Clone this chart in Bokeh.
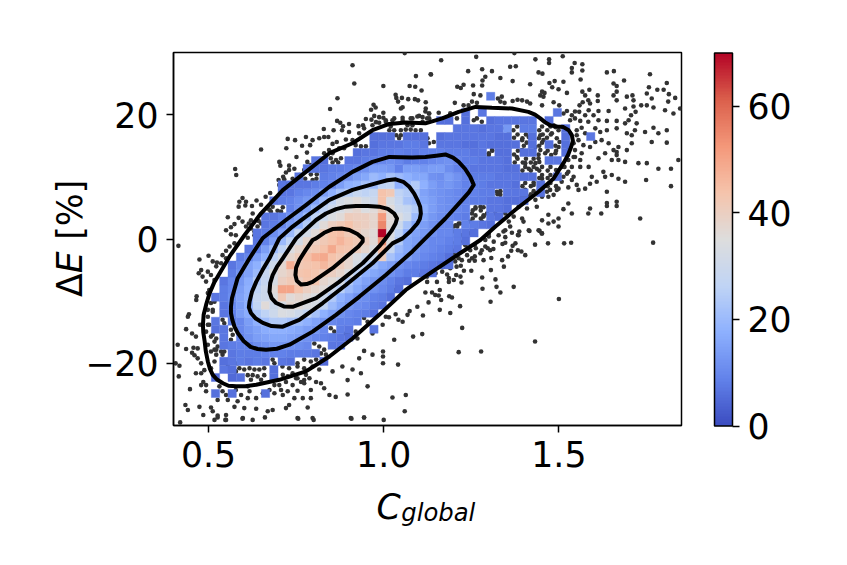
from bokeh.plotting import figure
from bokeh.models import (ColumnDataSource, LinearColorMapper, ColorBar, FixedTicker, Label, Range1d)
from bokeh.embed import file_html
from bokeh.resources import INLINE

x_ticks = [0.5, 1.0, 1.5]
y_ticks = [-20, 0, 20]
cbar_ticks = [0, 20, 40, 60]
x_lim = (0.4, 1.85)
y_lim = (-30, 30)
count_lim = (0, 70)

# 2-D histogram, read cell by cell. Row index rises with Delta E, zero = empty cell
bin_x0, bin_dx = 0.508, 0.0238
bin_y0, bin_dy = -25.5, 1.292
hist_counts = [
 [6,0,6,0,0,0,6],
 [],
 [5,0,5,6,0,0,0,6],
 [0,7,6,0,0,0,0,6],
 [0,6,7,8,7,8,7,0,7,6,0,0,0,5],
 [0,0,7,8,8,8,9,9,9,8,8,8,7],
 [0,7,8,9,9,11,12,13,13,12,11,10,0,0,7,7],
 [0,7,0,9,12,14,15,16,16,15,14,12,10,9,8,7,6],
 [6,7,0,10,13,15,17,18,18,17,16,14,13,10,0,8,7,0,0,7],
 [7,0,8,10,14,18,21,24,24,22,20,18,15,13,10,9,9,8],
 [0,7,9,14,17,23,26,30,34,33,30,27,22,18,15,12,10,9,8,6],
 [0,7,10,14,18,27,36,30,33,38,36,34,33,26,20,16,13,11,10,8,7],
 [7,8,11,15,18,28,30,34,42,36,38,36,34,30,24,18,15,12,11,9,8,6],
 [0,8,10,14,18,26,30,36,50,50,44,40,38,36,30,25,20,16,13,12,10,8,6],
 [0,7,10,13,17,24,28,33,40,42,40,43,43,38,36,32,24,18,15,13,11,9,7,6],
 [0,0,8,12,15,20,28,34,38,40,43,44,43,41,40,38,34,26,18,16,14,12,10,8,8,7,6],
 [0,0,7,10,15,18,24,30,37,48,42,43,44,46,43,41,38,33,26,20,16,14,12,10,9,8,7,6,6],
 [0,0,0,8,10,14,18,26,32,38,41,44,48,49,44,42,38,34,30,30,40,22,18,15,12,10,9,8,6],
 [0,0,0,0,7,9,14,20,26,34,38,41,42,44,49,44,43,41,38,34,45,28,20,16,13,11,10,9,8,7],
 [0,0,0,0,0,7,9,14,20,26,32,38,40,42,44,47,44,42,40,36,54,34,24,16,14,12,10,10,9,8,6],
 [0,0,0,0,0,7,8,11,15,20,28,32,36,41,44,45,42,40,38,36,70,34,26,18,15,13,12,10,10,8,7,6],
 [0,0,0,0,0,0,7,8,10,14,18,24,30,36,40,42,44,41,40,38,55,36,30,22,16,14,12,10,10,0,9,8,7,6],
 [0,0,0,0,0,0,7,7,9,12,15,20,26,30,34,36,41,40,40,38,52,36,34,30,20,16,13,11,10,9,8,0,0,7,6],
 [0,0,0,0,0,0,0,0,0,9,12,15,20,26,30,33,36,38,34,36,42,36,30,28,24,18,14,12,11,10,9,0,0,7,7,6],
 [0,0,0,0,0,0,0,7,8,9,11,13,15,20,26,32,34,36,32,30,44,33,28,22,20,16,14,12,11,10,9,8,8,7,7,6,6,6],
 [0,0,0,0,0,0,0,0,7,7,9,10,11,14,18,22,25,28,26,28,44,42,26,24,22,15,13,12,11,10,9,9,8,8,0,7,7,7,0,6],
 [0,0,0,0,0,0,0,0,7,7,7,7,8,9,10,14,18,19,22,20,26,27,18,20,24,18,14,12,13,11,9,9,8,7,7,7,6,0,0,6],
 [0,0,0,0,0,0,0,0,0,0,7,0,0,8,9,10,12,14,16,20,18,22,20,18,16,16,12,11,14,12,9,8,8,8,7,7,7,6,6,0,0,6],
 [0,0,0,0,0,0,0,0,0,0,0,7,7,7,8,8,9,10,12,14,14,13,9,14,14,13,14,14,11,9,8,7,7,7,7,6,6],
 [0,0,0,0,0,0,0,0,0,0,0,0,7,6,0,0,7,7,8,9,10,11,10,8,9,9,10,11,12,10,8,8,7,7,7,6,0,0,0,0,7,7],
 [0,0,0,0,0,0,0,0,0,0,0,0,0,0,0,0,0,6,7,7,8,8,9,8,8,9,9,9,8,8,8,7,7,0,6,6,0,6,6,0,0,0,6],
 [0,0,0,0,0,0,0,0,0,0,0,0,0,0,0,0,0,0,0,6,7,7,7,8,8,7,0,7,7,7,6,6,7,6,6,6,6,0,6,0,6,0,6],
 [0,0,0,0,0,0,0,0,0,0,0,0,0,0,0,0,0,0,0,6,6,6,0,6,6,6,0,6,7,7,7,7,7,7,6,6,0,0,6,0,0,0,6,0,0,7],
 [0,0,0,0,0,0,0,0,0,0,0,0,0,0,0,0,0,0,0,0,0,0,0,0,0,0,0,0,0,7,7,7,6,7,7,13,0,8,8,0,0,0,6],
 [0,0,0,0,0,0,0,0,0,0,0,0,0,0,0,0,0,0,0,0,0,0,0,0,0,0,0,6,6,0,6,0,0,6,7,7,7,7,7,0,6],
 [0,0,0,0,0,0,0,0,0,0,0,0,0,0,0,0,0,0,0,0,0,0,0,0,0,0,0,0,0,0,6,0,7,0,0,0,0,0,0,0,0,7],
 [],
 [0,0,0,0,0,0,0,0,0,0,0,0,0,0,0,0,0,0,0,0,0,0,0,0,0,0,0,0,0,0,0,0,0,8],
]

scatter_points = [
 (1.06,29.9),(0.911,27.95),(0.916,25.0),(1.092,26.2),(1.134,26.5),(1.074,24.6),(1.090,24.5),(1.108,23.9),(0.999,24.6),(1.034,23.2),
 (1.036,22.7),(1.041,22.1),(1.052,22.7),(1.070,22.5),(1.089,22.5),(1.098,22.3),(1.120,22.0),(0.868,22.65),(0.847,20.9),(0.971,21.6),
 (0.977,21.15),(0.964,20.8),(0.999,20.3),(1.049,21.0),(1.054,21.2),(1.120,21.0),(0.973,19.8),(0.987,19.6),(0.999,19.5),(0.949,19.3),
 (0.965,19.2),(1.025,19.1),(1.054,19.5),(1.082,19.4),(1.101,19.8),(1.13,20.2),(1.111,19.6),(0.867,19.0),(0.876,18.7),(0.901,18.5),
 (0.884,18.15),(0.928,18.15),(0.941,18.3),(0.829,17.7),(0.857,17.5),(0.881,17.5),(0.901,17.2),(0.778,16.4),(0.816,16.2),(0.830,16.4),
 (0.842,16.4),(0.726,16.1),(0.747,15.9),(0.797,15.9),(0.767,15.0),(0.790,15.1),(0.722,14.6),(0.650,14.4),(0.892,16.0),(0.854,15.3),
 (0.866,15.6),(0.844,14.3),(0.920,15.1),(0.935,14.9),(0.949,14.9),(0.751,13.2),(0.781,13.9),(0.702,12.4),(0.705,11.8),(0.730,11.8),
 (0.745,11.3),(0.782,12.4),(0.721,10.7),(0.73,11.1),(0.576,11.25),(0.579,10.3),(0.700,9.5),(0.713,10.0),(0.716,9.6),(0.702,8.7),
 (0.676,7.4),(0.663,6.8),(0.637,6.2),(0.650,5.5),(0.597,6.6),(0.588,6.0),(0.607,6.0),(0.586,5.2),(0.605,5.4),(0.624,5.3),
 (0.555,3.5),(0.586,3.4),(0.597,2.8),(0.626,4.1),(0.621,3.0),(0.574,2.4),(0.564,1.9),(0.55,1.4),(0.564,0.75),(0.578,0.6),
 (0.615,2.5),(0.643,2.9),(0.612,0.2),(0.631,0.6),(0.776,9.7),(0.792,10.4),(0.808,9.7),(0.797,9.5),(0.809,10.4),(0.849,13.0),
 (0.864,12.7),(0.878,13.0),(0.854,12.3),(0.870,12.3),(0.669,4.9),(0.683,5.2),(0.697,4.55),(0.712,5.1),(0.678,4.4),(0.707,4.4),
 (1.036,16.7),(1.044,16.2),(1.049,16.7),(1.115,16.7),(1.125,16.2),(1.016,17.5),(1.03,17.5),(1.049,17.5),(1.063,17.6),(1.077,17.6),
 (1.091,17.5),(1.106,17.5),(0.978,18.8),(1.006,19.1),(1.02,18.1),(1.077,19.4),(1.096,19.7),(1.111,18.85),(1.13,19.4),
 (0.414,-1.1),(0.474,-3.3),(0.5,-2.7),(0.512,-3.6),(0.524,-3.8),(0.479,-5.0),(0.472,-5.5),(0.483,-6.05),(0.54,-2.6),(0.56,-1.2),
 (0.55,-1.9),(0.574,-0.7),(0.466,-9.2),(0.465,-9.8),(0.507,-10.3),(0.512,-11.4),(0.498,-8.7),(0.444,-12.1),(0.441,-12.5),(0.476,-13.8),
 (0.498,-13.8),(0.517,-13.4),(0.436,-14.5),(0.453,-15.2),(0.464,-15.7),(0.412,-17.0),(0.436,-17.7),(0.457,-17.5),(0.469,-17.6),(0.453,-18.3),
 (0.46,-18.7),(0.469,-19.2),(0.517,-17.8),(0.526,-17.3),(0.522,-18.6),(0.545,-18.1),(0.406,-20.0),(0.417,-20.4),(0.479,-20.0),(0.464,-21.6),
 (0.479,-21.6),(0.488,-21.1),(0.415,-22.1),(0.485,-23.0),(0.493,-23.5),(0.447,-24.15),(0.531,-23.7),(0.434,-26.7),(0.441,-27.5),(0.474,-27.0),
 (0.507,-27.1),(0.512,-27.7),(0.526,-28.7),(0.485,-28.3),(0.55,-28.3),(0.55,-29.1),(0.419,-29.5),(0.598,-28.8),(0.574,-27.0),(0.555,-25.9),
 (0.583,-26.1),(0.602,-27.2),(0.612,-25.6),(0.636,-27.3),(0.683,-27.5),(0.669,-27.7),(0.721,-27.2),(0.73,-26.7),(0.745,-25.6),(0.712,-25.1),
 (0.688,-24.8),(0.707,-24.3),(0.726,-24.5),(0.754,-24.4),(0.769,-25.6),(0.792,-25.6),(0.783,-27.1),(0.754,-28.8),(0.797,-28.8),(0.83,-24.0),
 (0.845,-25.1),(0.863,-25.4),(0.897,-22.7),(0.897,-25.0),(0.935,-21.6),(0.954,-23.7),(0.911,-21.0),(0.882,-20.5),(0.854,-21.3),(0.807,-23.0),
 (0.773,-22.7),(0.788,-22.4),(0.764,-23.0),(1.025,-25.5),(1.063,-25.1),(1.06,-27.7),(0.906,-28.8),(0.944,-28.7),(1.0,-29.1),(0.998,-18.1),
 (0.998,-18.9),(0.998,-20.0),(1.041,-20.2),(0.944,-18.0),(0.93,-19.2),(0.968,-18.6),(1.03,-16.2),(1.11,-15.3),(1.084,-15.7),(1.054,-13.3),
 (1.042,-13.0),(1.068,-12.2),(1.074,-11.6),(1.112,-12.3),(1.096,-10.9),(1.006,-12.5),(1.015,-12.6),(1.034,-12.1),(0.997,-13.8),(0.968,-15.2),
 (0.92,-14.9),(0.925,-16.0),(0.892,-15.2),(0.901,-14.9),(0.588,-20.8),(0.602,-21.0),(0.617,-20.8),(0.631,-21.0),(0.645,-21.0),(0.659,-20.8),
 (0.612,-21.9),(0.626,-21.9),(0.64,-22.1),(0.659,-21.9),(0.621,-22.65),(0.65,-22.65),(0.711,-20.5),(0.73,-20.8),(0.754,-20.5),(0.74,-21.6),
 (0.773,-20.8),(0.797,-20.5),(0.816,-21.0),(0.712,-21.85),(0.726,-22.1),(0.75,-22.4),(0.778,-21.85),(0.802,-16.8),(0.816,-17.3),(0.83,-17.8),
 (0.821,-18.4),(0.835,-18.6),(0.849,-14.35),(0.859,-14.9),(0.754,-20.0),(0.773,-19.4),(0.792,-19.7),(0.807,-19.4),(0.683,-19.4),(0.688,-20.0),
 (0.54,-13.0),(0.545,-13.55),(0.517,-16.5),(0.522,-17.8),(0.512,-15.4),(0.522,-16.0),(0.536,-18.1),(0.54,-18.6),(0.564,-14.6),(0.569,-15.4),
 (0.564,-16.2),(0.555,-20.5),(0.578,-21.3),(0.583,-20.0),(0.517,-10.1),(0.512,-11.7),(0.968,-9.3),(0.977,-9.5),(1.015,-9.0),(1.03,-8.2),
 (1.039,-7.4),(1.073,-5.25),(1.087,-5.5),(1.101,-5.8),(0.944,-12.7),(0.954,-13.3),
 (1.264,29.3),(1.373,29.9),(1.164,28.75),(1.433,28.9),(1.472,28.9),(1.472,28.3),(1.511,29.4),(1.361,27.7),(1.377,27.8),(1.545,28.3),
 (1.567,28.1),(1.537,27.5),(1.537,26.8),(1.567,27.1),(1.135,26.45),(1.241,27.0),(1.281,27.3),(1.309,27.0),(1.442,26.8),(1.453,26.6),
 (1.637,26.8),(1.657,27.0),(1.76,26.5),(1.29,26.1),(1.282,25.5),(1.333,25.9),(1.368,25.4),(1.686,25.5),(1.488,25.4),(1.513,25.3),
 (1.473,25.1),(1.562,25.65),(1.418,24.9),(1.21,24.5),(1.228,24.8),(1.255,24.7),(1.281,24.7),(1.22,24.3),(1.481,24.4),(1.499,24.1),
 (1.656,25.0),(1.665,24.6),(1.808,25.1),(1.757,24.4),(1.781,24.0),(1.799,24.0),(1.751,23.4),(1.587,24.0),(1.567,23.7),(1.523,23.5),
 (1.452,23.7),(1.459,23.5),(1.447,23.1),(1.456,22.9),(1.257,23.3),(1.276,23.1),(1.337,22.9),(1.345,21.9),(1.333,22.1),(1.326,22.6),
 (1.368,22.2),(1.382,22.4),(1.395,22.3),(1.409,22.1),(1.418,21.8),(1.203,21.9),(1.228,21.5),(1.242,21.5),(1.266,21.9),(1.252,22.1),
 (1.452,21.5),(1.485,22.0),(1.501,21.5),(1.559,21.5),(1.568,22.0),(1.575,23.1),(1.584,22.3),(1.589,21.8),(1.611,23.1),(1.611,22.2),
 (1.665,23.7),(1.656,23.1),(1.694,22.9),(1.71,23.1),(1.665,22.3),(1.713,22.3),(1.832,22.7),(1.814,23.3),(1.812,22.1),(1.846,21.0),
 (1.765,22.6),(1.735,21.5),(1.751,21.5),(1.77,21.15),(1.803,20.7),(1.827,20.2),(1.689,21.0),(1.713,21.3),(1.719,20.45),(1.706,19.9),
 (1.642,20.6),(1.613,20.6),(1.585,20.7),(1.599,19.9),(1.558,20.45),(1.546,20.5),(1.575,19.9),(1.523,20.6),(1.513,20.2),(1.537,19.9),
 (1.532,19.1),(1.546,19.4),(1.561,19.0),(1.584,18.85),(1.613,19.1),(1.637,19.0),(1.665,19.0),(1.689,18.6),(1.722,18.6),(1.699,19.1),
 (1.746,17.2),(1.77,17.9),(1.784,17.0),(1.808,17.5),(1.765,15.6),(1.808,15.5),(1.694,17.0),(1.708,16.7),(1.717,17.5),(1.637,17.5),
 (1.665,17.8),(1.618,17.2),(1.604,17.8),(1.565,17.9),(1.551,17.5),(1.556,15.9),(1.575,17.0),(1.57,15.1),(1.589,14.8),(1.604,15.6),
 (1.622,15.9),(1.642,15.4),(1.67,14.8),(1.708,15.4),(1.694,14.3),(1.665,14.0),(1.656,14.3),(1.632,13.8),(1.613,13.0),(1.565,13.8),
 (1.546,14.3),(1.542,13.2),(1.561,12.7),(1.585,11.6),(1.561,11.6),(1.537,11.6),(1.516,11.6),(1.527,10.8),(1.542,10.0),(1.513,10.0),
 (1.594,10.0),(1.627,10.8),(1.651,10.3),(1.67,9.7),(1.689,9.2),(1.651,12.7),(1.67,12.7),(1.665,13.5),(1.689,12.4),(1.727,12.2),
 (1.751,12.2),(1.784,11.3),(1.82,11.3),(1.841,12.7),(1.749,9.5),(1.82,8.5),(1.632,10.0),(1.637,7.6),(1.608,9.2),(1.589,8.9),
 (1.575,8.1),(1.556,7.9),(1.537,9.5),(1.527,8.3),(1.551,8.7),(1.466,7.6),(1.475,7.9),(1.485,7.1),(1.499,8.1),(1.527,5.7),
 (1.513,4.8),(1.537,4.1),(1.584,4.1),(1.589,4.9),(1.621,4.1),(1.665,6.0),(1.665,5.3),(1.637,5.8),(1.637,5.3),(1.732,3.3),
 (1.499,3.3),(1.47,3.9),(1.452,3.0),(1.485,2.8),(1.47,2.5),(1.499,2.0),(1.442,1.4),(1.452,0.9),(1.414,1.4),(1.385,0.6),
 (1.361,2.0),(1.347,1.4),(1.328,0.6),(1.3,0.4),(1.399,2.8),(1.437,5.2),(1.409,4.9),(1.395,3.3),(1.347,17.8),(1.357,17.2),
 (1.395,15.9),(1.414,16.4),(1.433,14.8),(1.447,14.3),(1.395,14.3),(1.38,13.2),(1.404,12.2),(1.433,12.2),(1.461,13.8),(1.447,16.7),
 (1.456,15.9),(1.414,11.3),(1.437,11.3),(1.442,13.0),(1.452,9.7),(1.485,18.3),(1.499,17.5),(1.48,17.0),(1.494,16.2),(1.499,14.8),
 (1.49,13.8),(1.404,7.9),(1.395,6.8),(1.414,6.8),(1.428,8.7),(1.262,4.9),(1.276,5.2),(1.252,4.1),(1.285,3.6),(1.30,13.8),
 (1.309,14.3),(1.323,7.6),(1.333,7.1),(1.304,6.0),(1.295,4.1),(1.318,4.1),(1.205,2.2),(1.214,1.2),(1.247,0.9),(1.209,19.4),
 (1.257,19.1),(1.266,19.4),(1.28,18.85),(1.129,15.4),(1.143,15.6),(1.129,20.2),(1.157,20.3),(1.19,20.2),(1.119,20.5),(1.124,19.4),
 (1.769,-0.59),(1.432,-0.91),(1.469,-0.7),(1.515,-0.7),(1.535,-0.59),(1.5,-9.64),(1.432,-16.5),(1.278,-18.1),(1.214,-18.2),(1.224,-14.3),
 (1.19,-11.9),(1.16,-11.4),(1.218,-10.8),(1.128,-10.2),(1.305,-10.1),(1.333,-8.6),(1.371,-7.7),(1.322,-7.7),(1.282,-8.0),(1.319,-6.5),
 (1.281,-6.2),(1.306,-5.0),(1.343,-4.45),(1.355,-2.8),(1.404,-2.6),(1.393,-2.0),(1.383,-1.8),(1.364,-1.9),(1.368,-1.1),(1.376,-0.7),
 (1.347,0.3),(1.339,-0.8),(1.347,-0.6),(1.314,-0.43),(1.313,-1.6),(1.307,-3.05),(1.285,-3.4),(1.26,-3.5),(1.244,-3.5),(1.25,-5.1),
 (1.229,-5.1),(1.22,-4.3),(1.222,-7.0),(1.219,-6.05),(1.207,-5.8),(1.2,-6.6),(1.186,-6.9),(1.152,-6.9),(1.181,-5.7),(1.186,-6.3),
 (1.16,-8.2),(1.138,-8.6),(1.119,-8.6),(1.147,-9.0),(1.157,-9.1),(1.164,-9.8),(1.187,-9.2),(1.195,-9.4),(1.124,-6.9),(1.208,-4.45),
 (1.214,-3.1),(1.223,-3.4),(1.26,-2.8),(1.276,-2.3),(1.263,-1.5),(1.28,-1.8),(1.29,-1.2),(1.297,-1.5),(1.26,-0.96),(1.233,0.4),
 (1.204,-0.6),(1.217,-0.43),(1.184,-1.0),(1.181,-2.6),(1.2,-2.2),(1.162,-2.7),(1.136,-2.4),(1.143,-3.6),(1.195,-1.8),(1.219,0.64),
 (1.342,1.2),(1.366,1.0),(1.387,1.2),(1.383,0.64),(1.416,1.3),(1.445,1.3),(1.451,0.9),(1.29,-0.16),(1.3,0.8),(1.203,1.2),
 (1.238,1.2),(1.26,1.2),(0.517,-29.1),(0.548,-29.1),(0.597,-28.9),(0.626,-29.1),(0.661,-28.7),(0.756,-28.9),(0.8,-29.1),(0.908,-28.9),
 (0.944,-28.7),(0.526,-28.4),
 (0.578,-24.3),(0.593,-25.1),(0.617,-24.5),(0.636,-25.6),(0.655,-24.8),(0.674,-24.3),(0.688,-23.5),(0.702,-23.5),(0.721,-23.0),(0.74,-23.5),
 (0.754,-22.4),(0.773,-23.2),(0.792,-24.3),(0.821,-23.2),(0.612,-23.7),(0.54,-24.5),(0.55,-25.1),(0.526,-25.9),(0.493,-24.5),(0.479,-23.5),
 (0.498,-5.25),(0.507,-5.8),(0.522,-4.4),(0.536,-3.9),(0.55,-3.1),(0.493,-6.85),(0.502,-8.2),(0.517,-6.6),(0.498,-11.4),(0.498,-12.5),
 (0.502,-13.8),(0.493,-14.9),(0.507,-15.7),(0.498,-17.0),(0.507,-18.1),(0.517,-19.7),(0.507,-20.8),
 (0.607,2.0),(0.621,1.7),(0.64,2.0),(0.631,1.2),(0.65,2.5),(0.659,3.9),(0.674,4.7),(0.693,6.5),(0.712,8.1),(0.726,8.9),
 (0.74,9.7),(0.759,10.3),(0.773,11.1),(0.792,11.9),(0.816,12.7),(0.83,13.8),(0.854,13.8),(0.873,14.6),(0.887,14.6),(0.911,15.9),
 (0.93,17.0),(0.944,17.8),(0.968,18.3),(0.987,18.7),(1.006,18.85),(1.03,19.4),(1.054,19.1),(1.068,18.3),(1.082,18.3),
 (1.214,2.5),(1.2,2.0),(1.262,2.0),(1.247,2.8),(1.28,2.8),(1.309,3.3),(1.347,4.1),(1.371,3.6),(1.357,2.8),(1.385,5.2),
 (1.404,6.8),(1.433,6.3),(1.452,6.8),(1.47,6.8),(1.494,7.9),(1.508,9.2),(1.523,10.5),(1.508,11.6),(1.527,12.7),(1.546,13.2),
 (1.527,14.3),(1.542,15.4),(1.532,17.0),(1.551,16.7),
 (1.176,-4.45),(1.167,-5.25),(1.19,-4.7),(1.138,-3.9),(1.124,-6.05),(1.148,-5.5),(1.204,-3.6),(1.238,-2.6),(1.252,-3.1),(1.247,-1.8),
 (1.233,-1.0),(1.214,-1.8),(1.338,-3.4),(1.304,-1.8),
 (1.30,13.5),(1.31,14.2),(1.372,13.6),(1.383,14.2),(1.442,13.6),(1.468,14.2),(1.478,13.5),(1.492,14.2),(1.4,15.0),(1.408,15.5),
 (1.444,15.0),(1.452,15.5),(1.49,15.0),(1.502,15.6),(1.372,16.3),(1.382,16.8),(1.396,16.2),(1.406,16.8),(1.443,16.2),(1.454,16.8),
 (1.466,16.3),(1.477,16.8),(1.37,17.5),(1.381,18.1),(1.444,17.5),(1.452,18.1),(1.467,17.5),(1.476,18.1),(1.49,18.0),(1.374,12.3),
 (1.382,12.9),(1.397,12.3),(1.406,12.9),(1.42,12.3),(1.428,12.9),(1.444,12.4),(1.396,11.0),(1.404,11.6),(1.42,11.0),(1.428,11.6),
 (1.444,11.0),(1.452,11.6),(1.468,11.0),(1.476,11.6),(1.492,11.1),(1.444,9.8),(1.452,10.3),(1.468,9.8),(1.476,10.3),(1.396,8.5),
 (1.404,9.0),(1.42,8.5),(1.428,9.1),(1.468,8.5),(1.476,9.0),(1.492,8.5),(1.42,7.2),(1.428,7.7),(1.325,7.2),(1.333,7.7),
 (1.254,4.6),(1.262,5.1),(1.277,4.6),(1.285,5.1),(1.254,3.3),(1.262,3.8),(1.277,3.3),(1.285,3.8),(1.21,2.0),(1.218,2.5),
]

contour_1 = [(0.484,-13.8),(0.486,-12.2),(0.493,-10.6),(0.503,-8.7),(0.517,-6.9),(0.560,-2.8),(0.603,0.64),(0.650,4.13),(0.712,7.87),(0.778,10.8),(0.845,13.8),(0.911,15.4),(0.968,17.5),(1.016,18.5),(1.063,18.75),(1.119,18.6),(1.167,19.4),(1.214,20.45),(1.262,21.25),(1.309,21.1),(1.366,21.0),(1.413,20.45),(1.432,20.0),(1.447,19.4),(1.46,18.8),(1.475,18.3),(1.495,18.1),(1.513,18.0),(1.528,17.5),(1.537,16.7),(1.54,15.8),(1.535,14.8),(1.526,13.5),(1.513,12.2),(1.485,9.75),(1.442,7.6),(1.375,4.66),(1.319,2.0),(1.276,-0.16),(1.207,-2.7),(1.139,-5.25),(1.063,-8.2),(0.987,-12.2),(0.911,-16.0),(0.845,-18.9),(0.778,-21.3),(0.702,-22.65),(0.636,-23.45),(0.605,-23.7),(0.579,-23.7),(0.557,-23.6),(0.541,-23.2),(0.524,-22.6),(0.512,-21.85),(0.504,-20.9),(0.498,-19.7),(0.492,-18.0),(0.489,-16.5),(0.485,-15.0),(0.484,-13.8)]
contour_2 = [(0.564,-10.9),(0.567,-9.5),(0.583,-6.3),(0.617,-3.1),(0.655,0.16),(0.721,3.05),(0.778,5.46),(0.845,8.4),(0.911,10.8),(0.968,12.4),(1.016,13.2),(1.082,13.1),(1.119,13.2),(1.15,13.4),(1.176,13.6),(1.198,13.1),(1.214,12.4),(1.232,11.3),(1.247,10.0),(1.257,8.7),(1.243,7.5),(1.224,6.3),(1.176,3.3),(1.119,0.1),(1.082,-2.0),(1.006,-5.8),(0.930,-9.3),(0.864,-12.2),(0.797,-14.9),(0.731,-17.0),(0.695,-17.65),(0.664,-17.8),(0.64,-17.7),(0.62,-17.35),(0.6,-16.4),(0.583,-15.1),(0.574,-14.1),(0.568,-13.0),(0.564,-11.9),(0.564,-10.9)]
contour_3 = [(0.617,-10.1),(0.624,-8.5),(0.636,-6.9),(0.654,-5.0),(0.674,-3.1),(0.688,-1.5),(0.702,0.1),(0.74,2.0),(0.778,3.6),(0.845,6.3),(0.911,7.9),(0.977,8.95),(1.01,9.45),(1.034,9.6),(1.056,9.2),(1.073,8.4),(1.087,7.3),(1.096,6.3),(1.104,5.2),(1.106,4.1),(1.103,3.2),(1.096,2.5),(1.076,1.2),(1.054,0.1),(1.025,-0.7),(0.968,-3.9),(0.892,-7.4),(0.826,-10.3),(0.759,-13.0),(0.712,-14.1),(0.68,-14.0),(0.655,-13.5),(0.635,-12.8),(0.621,-11.9),(0.615,-11.0),(0.617,-10.1)]
contour_4 = [(0.674,-8.5),(0.676,-7.1),(0.683,-5.8),(0.695,-4.5),(0.712,-3.1),(0.750,0.1),(0.807,3.05),(0.835,4.1),(0.864,4.8),(0.892,5.2),(0.921,5.3),(0.955,5.3),(0.987,5.2),(1.012,4.85),(1.03,4.1),(1.038,3.3),(1.034,2.5),(1.022,1.3),(1.006,0.1),(0.987,-1.2),(0.94,-3.9),(0.873,-6.9),(0.807,-9.5),(0.74,-10.9),(0.715,-10.85),(0.693,-10.3),(0.68,-9.5),(0.674,-8.5)]
contour_5 = [(0.748,-5.8),(0.75,-4.6),(0.759,-3.4),(0.778,-1.7),(0.797,-0.16),(0.807,0.1),(0.83,1.0),(0.854,1.6),(0.88,1.7),(0.902,1.45),(0.925,0.8),(0.94,0.1),(0.94,-0.4),(0.928,-1.2),(0.911,-2.0),(0.854,-4.7),(0.797,-6.9),(0.78,-7.25),(0.764,-7.3),(0.752,-6.7),(0.748,-5.8)]
contours = [contour_1, contour_2, contour_3, contour_4, contour_5]

# coolwarm colour ramp
anchors = [(59,76,192),(98,130,234),(141,176,254),(192,212,245),(221,221,221),(245,196,172),(244,152,122),(219,96,76),(180,4,38)]
palette = []
for i in range(256):
    t = i / 255 * (len(anchors) - 1)
    a = min(int(t), len(anchors) - 2)
    f = t - a
    rgb = [round(anchors[a][c] + (anchors[a + 1][c] - anchors[a][c]) * f) for c in range(3)]
    palette.append("#%02x%02x%02x" % tuple(rgb))

FONT = "DejaVu Sans"
TICK_PX = "34.7px"
SUB_PX = "24.3px"

p = figure(frame_width=508, frame_height=373, width=847, height=565,
           x_range=Range1d(*x_lim), y_range=Range1d(*y_lim),
           output_backend="svg", toolbar_location=None,
           min_border_left=173, min_border_top=52, min_border_right=10, min_border_bottom=10)
p.grid.visible = False
p.outline_line_color = "black"
p.outline_line_width = 1.5
p.background_fill_color = "white"
p.border_fill_color = "white"

for ax, ticks in ((p.xaxis[0], x_ticks), (p.yaxis[0], y_ticks)):
    ax.ticker = FixedTicker(ticks=ticks)
    ax.axis_line_color = "black"
    ax.axis_line_width = 1.5
    ax.major_tick_line_color = "black"
    ax.major_tick_line_width = 1.5
    ax.major_tick_out = 7
    ax.major_tick_in = 0
    ax.minor_tick_line_color = None
    ax.major_label_text_font = FONT
    ax.major_label_text_font_size = TICK_PX
    ax.major_label_text_color = "black"
    ax.major_label_standoff = 8
p.xaxis[0].major_label_overrides = {0.5: "0.5", 1.0: "1.0", 1.5: "1.5"}
p.yaxis[0].major_label_overrides = {-20: "\u221220", 0: "0", 20: "20"}

# scatter below the histogram
p.scatter([q[0] for q in scatter_points], [q[1] for q in scatter_points],
          size=4.6, marker="circle", fill_color="#333333", line_color=None)

mapper = LinearColorMapper(palette=palette, low=count_lim[0], high=count_lim[1])
left, right, bottom, top, vals = [], [], [], [], []
for j, row in enumerate(hist_counts):
    for k, v in enumerate(row):
        if v > 0:
            left.append(bin_x0 + k * bin_dx)
            right.append(bin_x0 + (k + 1) * bin_dx)
            bottom.append(bin_y0 + j * bin_dy)
            top.append(bin_y0 + (j + 1) * bin_dy)
            vals.append(v)
src = ColumnDataSource(dict(left=left, right=right, bottom=bottom, top=top, v=vals))
tr = {"field": "v", "transform": mapper}
p.quad(left="left", right="right", bottom="bottom", top="top", source=src,
       fill_color=tr, line_color=tr, line_width=0.4)

for c in contours:
    p.line([q[0] for q in c], [q[1] for q in c], line_color="black", line_width=4,
           line_join="round", line_cap="round")

bar = ColorBar(color_mapper=mapper, ticker=FixedTicker(ticks=cbar_ticks), width=18, height=373,
               location="center_left", margin=0, padding=33, bar_line_color="black", bar_line_width=1.5,
               major_tick_line_color="black", major_tick_line_width=1.5,
               major_tick_in=0, major_tick_out=7, minor_tick_line_color=None,
               major_label_text_font=FONT, major_label_text_font_size=TICK_PX,
               major_label_text_color="black", label_standoff=8, title=None,
               border_line_color=None, background_fill_color=None)
p.add_layout(bar, "right")

def lab(x, y, text, size, style="normal", angle=0):
    p.add_layout(Label(x=x, y=y, text=text, text_font=FONT,
                       text_font_size=size, text_font_style=style, text_color="black", angle=angle,
                       text_baseline="alphabetic", text_align="left"), "below")

lab(0.9795, -43.05, "C", TICK_PX, "italic")
lab(1.05, -44.0, "global", SUB_PX, "italic")
rot = 1.5707963
lab(0.105, -9.32, "\u0394", TICK_PX, "normal", rot)
lab(0.105, -5.51, "E", TICK_PX, "italic", rot)
lab(0.105, -0.11, "[%]", TICK_PX, "normal", rot)

open("out.html", "w").write(file_html(p, INLINE))
